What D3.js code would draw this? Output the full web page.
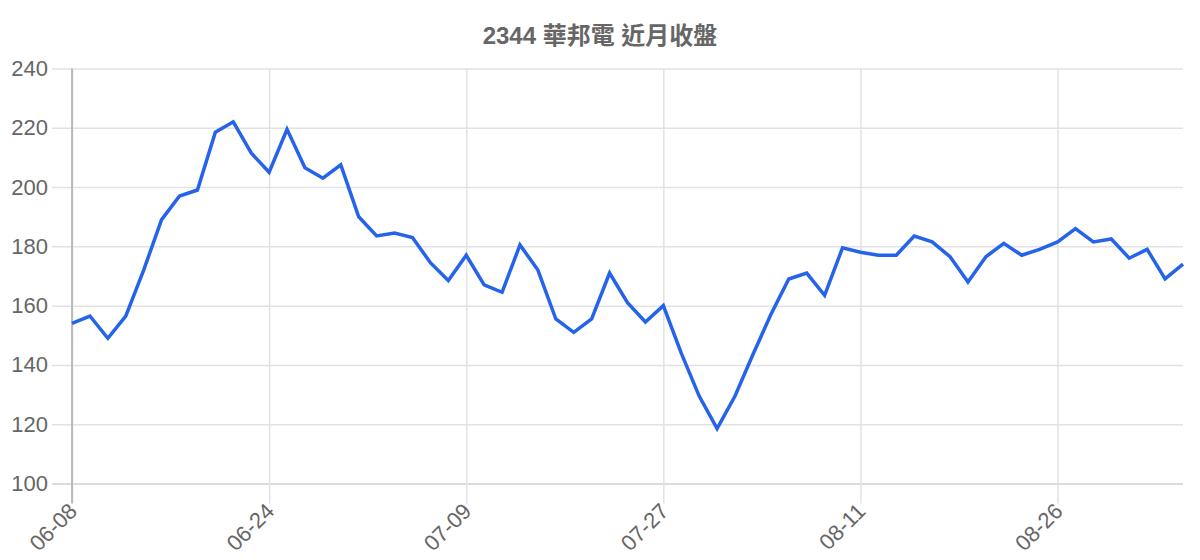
<!DOCTYPE html>
<html>
<head>
<meta charset="utf-8">
<script src="https://cdn.jsdelivr.net/npm/d3@7"></script>
<style>
  html, body { margin: 0; padding: 0; background: #fff; }
  #chart text { font-family: "Liberation Sans", Arial, "Noto Sans CJK TC", sans-serif; }
</style>
</head>
<body>
<div id="chart"></div>
<script>
const title = '2344 華邦電 近月收盤';

// trading days (MM-DD)
const dates = [
    '06-08', '06-09', '06-10', '06-11', '06-12', '06-15', '06-16', '06-17', '06-18', '06-22',
    '06-23', '06-24', '06-25', '06-26', '06-29', '06-30', '07-01', '07-02', '07-03', '07-06',
    '07-07', '07-08', '07-09', '07-10', '07-13', '07-14', '07-15', '07-16', '07-17', '07-20',
    '07-21', '07-22', '07-23', '07-27', '07-28', '07-29', '07-30', '07-31', '08-03', '08-04',
    '08-05', '08-06', '08-07', '08-10', '08-11', '08-12', '08-13', '08-14', '08-17', '08-18',
    '08-19', '08-20', '08-21', '08-24', '08-25', '08-26', '08-27', '08-28', '08-31', '09-01',
    '09-02', '09-03', '09-04'
];

// closing prices
const closes = [
    154, 156.5, 149, 156.5, 172, 189, 197, 199, 218.5, 222,
    211.5, 205, 219.5, 206.5, 203, 207.5, 190, 183.5, 184.5, 183,
    174.5, 168.5, 177, 167, 164.5, 180.5, 172, 155.5, 151, 155.5,
    171, 161, 154.5, 160, 144, 129.5, 118.5, 129.5, 143.5, 157,
    169, 171, 163.5, 179.5, 178, 177, 177, 183.5, 181.5, 176.5,
    168, 176.5, 181, 177, 179, 181.5, 186, 181.5, 182.5, 176,
    179, 169, 174
];

const yTicks = [100, 120, 140, 160, 180, 200, 220, 240];
const xTickLabels = ['06-08', '06-24', '07-09', '07-27', '08-11', '08-26'];

const width = 1200;
const height = 560;
const plotLeft = 72, plotRight = 1183, plotTop = 68.5, plotBottom = 483.5;
const tickLen = 20;

const svg = d3.select('#chart')
    .append('svg')
    .attr('width', width)
    .attr('height', height);

const x = d3.scalePoint()
    .domain(dates)
    .range([plotLeft, plotRight]);

const y = d3.scaleLinear()
    .domain([100, 240])
    .range([plotBottom, plotTop]);

// title
svg.append('text')
    .attr('x', 600)
    .attr('y', 44)
    .attr('text-anchor', 'middle')
    .attr('font-size', 24)
    .attr('font-weight', 'bold')
    .attr('fill', '#666')
    .text(title);

// horizontal grid + y labels
const yAxis = svg.append('g')
    .attr('transform', `translate(${plotLeft - tickLen},0)`)
    .call(d3.axisLeft(y)
        .tickValues(yTicks)
        .tickSize(-(plotRight - plotLeft + tickLen))
        .tickPadding(4)
        .tickFormat(d3.format('d')));
yAxis.select('.domain').remove();
yAxis.selectAll('line')
    .attr('stroke', d => d === 100 ? '#cfcfcf' : '#e2e2e2')
    .attr('stroke-width', 1.5);
yAxis.selectAll('text')
    .attr('font-size', 22)
    .attr('fill', '#666');

// vertical grid + rotated x labels
const xAxis = svg.append('g')
    .attr('transform', `translate(0,${plotBottom + tickLen})`)
    .call(d3.axisBottom(x)
        .tickValues(xTickLabels)
        .tickSize(-(plotBottom + tickLen - plotTop))
        .tickFormat(''));
xAxis.select('.domain').remove();
xAxis.selectAll('line')
    .attr('stroke', '#e2e2e2')
    .attr('stroke-width', 1.5);
xAxis.selectAll('.tick')
    .append('text')
    .attr('text-anchor', 'end')
    .attr('transform', 'translate(6,9) rotate(-45)')
    .attr('font-size', 22)
    .attr('fill', '#666')
    .text(d => d);

// y axis line
svg.append('line')
    .attr('x1', plotLeft).attr('x2', plotLeft)
    .attr('y1', plotTop).attr('y2', plotBottom + tickLen)
    .attr('stroke', '#aaa')
    .attr('stroke-width', 1.5);

// price line
const line = d3.line()
    .x((d, i) => x(dates[i]))
    .y(d => y(d));

svg.append('path')
    .datum(closes)
    .attr('fill', 'none')
    .attr('stroke', '#2563eb')
    .attr('stroke-width', 3.5)
    .attr('stroke-linejoin', 'miter')
    .attr('d', line);
</script>
</body>
</html>
